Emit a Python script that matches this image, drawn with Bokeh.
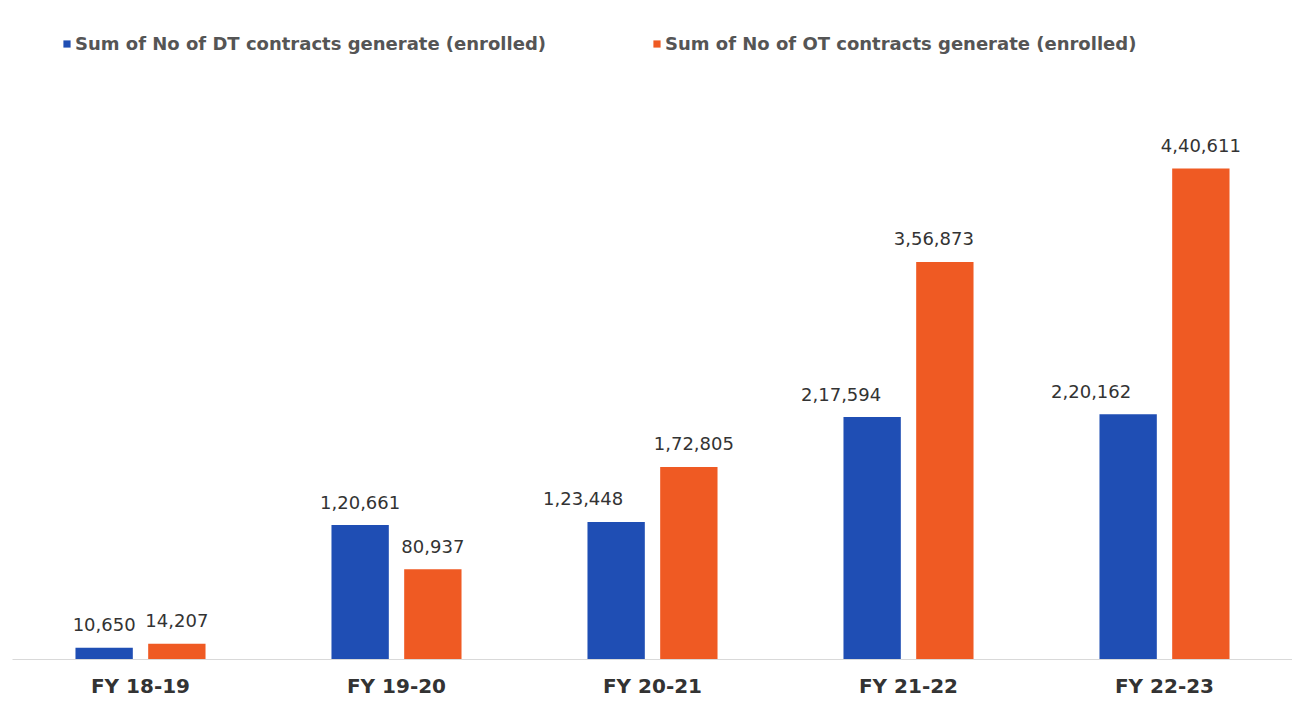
from bokeh.plotting import figure
from bokeh.models import ColumnDataSource, Range1d, FactorRange, Legend, LegendItem, LabelSet
from bokeh.transform import dodge
from bokeh.core.properties import value
from bokeh.embed import file_html
from bokeh.resources import INLINE

categories = ["FY 18-19", "FY 19-20", "FY 20-21", "FY 21-22", "FY 22-23"]
dt_values = [10650, 120661, 123448, 217594, 220162]
ot_values = [14207, 80937, 172805, 356873, 440611]
dt_name = "Sum of No of DT contracts generate (enrolled)"
ot_name = "Sum of No of OT contracts generate (enrolled)"

# label nudges (pixels) as in the original, where labels were moved to avoid overlap
dt_label_dx = [0, 0, -33, -31, -37]
ot_label_dx = [0, 0, 5, -11, 0]

def fmt_indian(n):
    s = str(n)
    if len(s) <= 3:
        return s
    last3 = s[-3:]
    rest = s[:-3]
    parts = []
    while len(rest) > 2:
        parts.insert(0, rest[-2:])
        rest = rest[:-2]
    if rest:
        parts.insert(0, rest)
    return ",".join(parts) + "," + last3

src = ColumnDataSource(dict(
    cat=categories, dt=dt_values, ot=ot_values,
    dt_lbl=[fmt_indian(v) for v in dt_values],
    ot_lbl=[fmt_indian(v) for v in ot_values],
    dt_dx=dt_label_dx, ot_dx=ot_label_dx,
))

BLUE = "#1F4EB4"
ORANGE = "#EF5A23"
TXT = "#333333"
FONT = "DejaVu Sans"

p = figure(x_range=FactorRange(*categories, range_padding=0), y_range=Range1d(0, 591500),
           width=1292, height=700, output_backend="svg", toolbar_location=None,
           min_border_left=12, min_border_right=0, min_border_top=0, min_border_bottom=41)
p.x_range.range_padding = 0
p.outline_line_color = None
p.grid.visible = False
p.yaxis.visible = False
p.background_fill_color = "white"

w = 0.224
off = 0.142
r1 = p.vbar(x=dodge("cat", -off, range=p.x_range), top="dt", width=w, source=src,
            fill_color=BLUE, line_color=None)
r2 = p.vbar(x=dodge("cat", off, range=p.x_range), top="ot", width=w, source=src,
            fill_color=ORANGE, line_color=None)

for xs, ys, lbl, dx in ((-off, "dt", "dt_lbl", "dt_dx"), (off, "ot", "ot_lbl", "ot_dx")):
    p.add_layout(LabelSet(x=dodge("cat", xs, range=p.x_range), y=ys, text=lbl, source=src,
                          x_offset=dx, y_offset=23, text_align="center", text_baseline="middle",
                          text_font=value(FONT), text_font_size=value("18px"),
                          text_color=value(TXT)))

ax = p.xaxis[0]
ax.axis_line_color = "#D9D9D9"
ax.axis_line_width = 1
ax.major_tick_line_color = None
ax.minor_tick_line_color = None
ax.major_label_standoff = 8
ax.major_label_text_font = FONT
ax.major_label_text_font_size = "20px"
ax.major_label_text_color = TXT
ax.major_label_text_font_style = "bold"

legend = Legend(items=[LegendItem(label=dt_name, renderers=[r1]),
                       LegendItem(label=ot_name, renderers=[r2])],
                orientation="horizontal", location=(50, 605))
legend.border_line_color = None
legend.background_fill_alpha = 0
legend.padding = 0
legend.margin = 0
legend.spacing = 0
legend.glyph_width = 9
legend.glyph_height = 9
legend.label_standoff = 4
legend.label_width = 577
legend.label_text_font = FONT
legend.label_text_font_size = "18px"
legend.label_text_font_style = "bold"
legend.label_text_color = "#555555"
p.add_layout(legend)

open("out.html", "w").write(file_html(p, INLINE))
